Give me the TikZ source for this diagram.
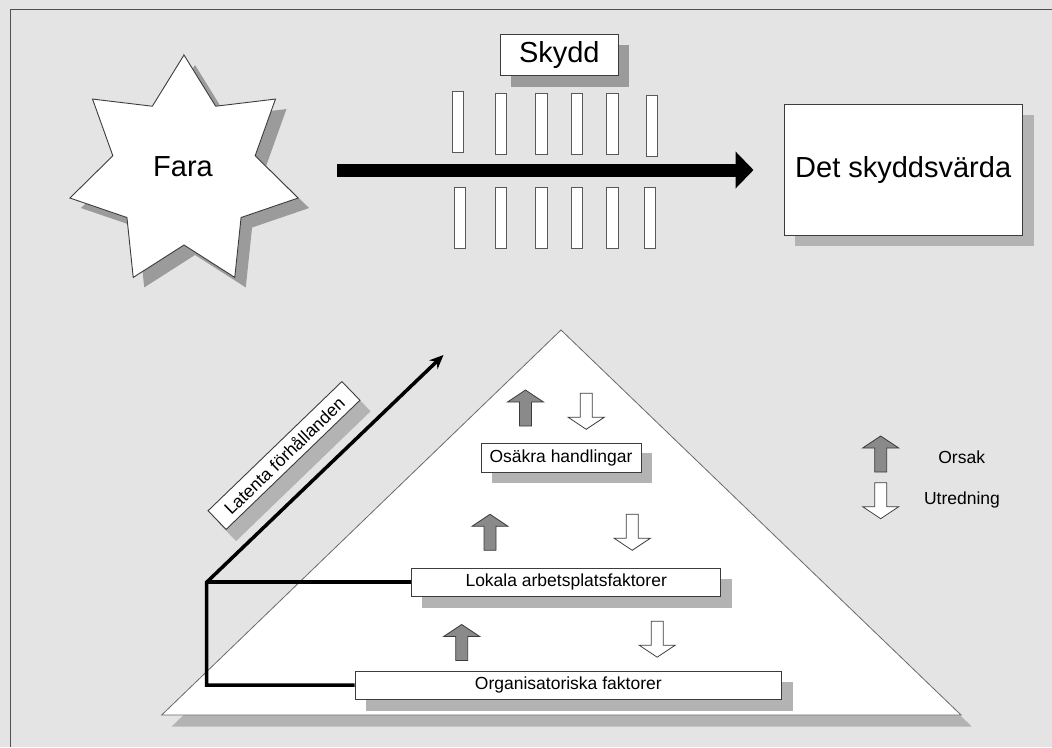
\documentclass[tikz,border=0pt]{standalone}
\usepackage{fontspec}
\setmainfont{Liberation Sans}
\usetikzlibrary{arrows.meta}

\definecolor{canvas}{HTML}{E4E4E4}
\definecolor{framecol}{HTML}{505050}
\definecolor{shadedark}{HTML}{9B9B9B}
\definecolor{shadelight}{HTML}{B3B3B3}
\definecolor{edge}{HTML}{3C3C3C}
\definecolor{pyredge}{HTML}{6A6A6A}
\definecolor{causegray}{HTML}{8A8A8A}

\pgfdeclarelayer{bg}
\pgfdeclarelayer{shade}
\pgfsetlayers{bg,shade,main}

% drop shadow behind a (possibly rotated) rectangular node
\newcommand{\castshade}[4]{%
  \begin{pgfonlayer}{shade}
    \fill[#4] ([shift={(#2,#3)}]#1.north west) -- ([shift={(#2,#3)}]#1.north east)
      -- ([shift={(#2,#3)}]#1.south east) -- ([shift={(#2,#3)}]#1.south west) -- cycle;
  \end{pgfonlayer}}

\tikzset{
  box/.style={draw=edge, line width=0.9pt, fill=white, inner sep=0pt, align=center},
  big/.style={font=\fontsize{29}{34}\selectfont},
  small/.style={font=\fontsize{17.5}{21}\selectfont},
  bar/.style={draw=edge!85, line width=0.8pt, fill=white},
  link/.style={line width=3.5pt, line join=miter, black},
  flow/.style={line width=13pt, black, -{Triangle[length=18pt, width=36pt]}},
  pics/causearrow/.style={code={
    \filldraw[draw=edge, line width=0.8pt, fill=causegray]
      (-6,18) -- (-6,-6) -- (-18,-6) -- (0,-18) -- (18,-6) -- (6,-6) -- (6,18) -- cycle;}},
  pics/inquiryarrow/.style={code={
    \filldraw[draw=edge, line width=0.8pt, fill=white]
      (-6,-18) -- (-6,6) -- (-18,6) -- (0,18) -- (18,6) -- (6,6) -- (6,-18) -- cycle;}},
}

\begin{document}
\begin{tikzpicture}[x=1pt, y=-1pt]
\useasboundingbox (0,0) rectangle (1052,747);

\begin{pgfonlayer}{bg}
  % canvas and frame
  \fill[canvas] (0,0) rectangle (1052,747);
  \draw[framecol, line width=1.5pt] (10.5,747) -- (10.5,9.5) -- (1052,9.5);
  % seven-pointed hazard star
  \fill[shadedark, shift={(195,182)}] (270:117)
    \foreach \k in {0,...,6} { -- ({270+\k*51.4286+25.7143}:73) -- ({270+(\k+1)*51.4286}:117) } -- cycle;
  \filldraw[draw=edge, line width=0.9pt, fill=white, shift={(184,172)}] (270:117)
    \foreach \k in {0,...,6} { -- ({270+\k*51.4286+25.7143}:73) -- ({270+(\k+1)*51.4286}:117) } -- cycle;
  % pyramid
  \fill[shadelight] (571,341) -- (971.7,726.5) -- (171.7,726.5) -- cycle;
  \filldraw[draw=pyredge, line width=0.8pt, fill=white] (561,330) -- (961,715) -- (161.7,715) -- cycle;
\end{pgfonlayer}

% barriers
\foreach \x/\y in {452.3/91, 495/93, 535.7/93, 571.3/93, 606.7/93, 646/95}
  \draw[bar] (\x,\y) rectangle ++(11.3,61);
\foreach \x in {454.3, 495, 535.7, 571.3, 606.7, 644}
  \draw[bar] (\x,187.3) rectangle ++(11.3,61);

% top row
\node[big] (fara) at (183,167) {Fara};
\node[box, big, minimum width=117.3pt, minimum height=40.7pt] (skydd) at (559.3,54.7) {Skydd};
\castshade{skydd}{11}{11}{shadedark}
\node[box, big, minimum width=237.7pt, minimum height=131pt] (target) at (903.2,169.5) {Det skyddsvärda};
\castshade{target}{11}{11}{shadelight}

\coordinate (flowstart) at (337,170);
\coordinate (flowend) at (753.5,170);
\draw[flow] (flowstart) -- (flowend);

% pyramid levels
\node[box, small, minimum width=160pt, minimum height=29pt] (osakra) at (561,457.8) {Osäkra handlingar};
\castshade{osakra}{11}{10.5}{shadelight}
\node[box, small, minimum width=309pt, minimum height=27.7pt] (lokala) at (566.2,582.2) {Lokala arbetsplatsfaktorer};
\castshade{lokala}{11}{11}{shadelight}
\node[box, small, minimum width=426.7pt, minimum height=28.3pt] (org) at (568.3,685.2) {Organisatoriska faktorer};
\castshade{org}{11}{11}{shadelight}

% latent conditions
\node[box, small, rotate=44, minimum width=186pt, minimum height=26pt] (latent) at (284,455.5) {Latenta förhållanden};
\castshade{latent}{10}{11}{shadelight}

\coordinate (junction) at (206.7,582.2);
\coordinate (latenttip) at (443.5,355);
\draw[link] (lokala.west) -- (junction);
\draw[link, -{Stealth[length=14pt, width=12pt]}] (org.west) -| (junction) -- (latenttip);

% cause / investigation arrows
\pic (c1) at (525.5,408) {causearrow};
\pic (i1) at (586.2,411.3) {inquiryarrow};
\pic (c2) at (490,532.3) {causearrow};
\pic (i2) at (632.2,532.3) {inquiryarrow};
\pic (c3) at (461.7,642.5) {causearrow};
\pic (i3) at (657.2,639.2) {inquiryarrow};

% legend
\pic (lc) at (880.7,454) {causearrow};
\pic (li) at (880.7,500.7) {inquiryarrow};
\node[small] (orsak) at (961.7,457) {Orsak};
\node[small] (utredning) at (962,500) {Utredning};
\end{tikzpicture}
\end{document}
